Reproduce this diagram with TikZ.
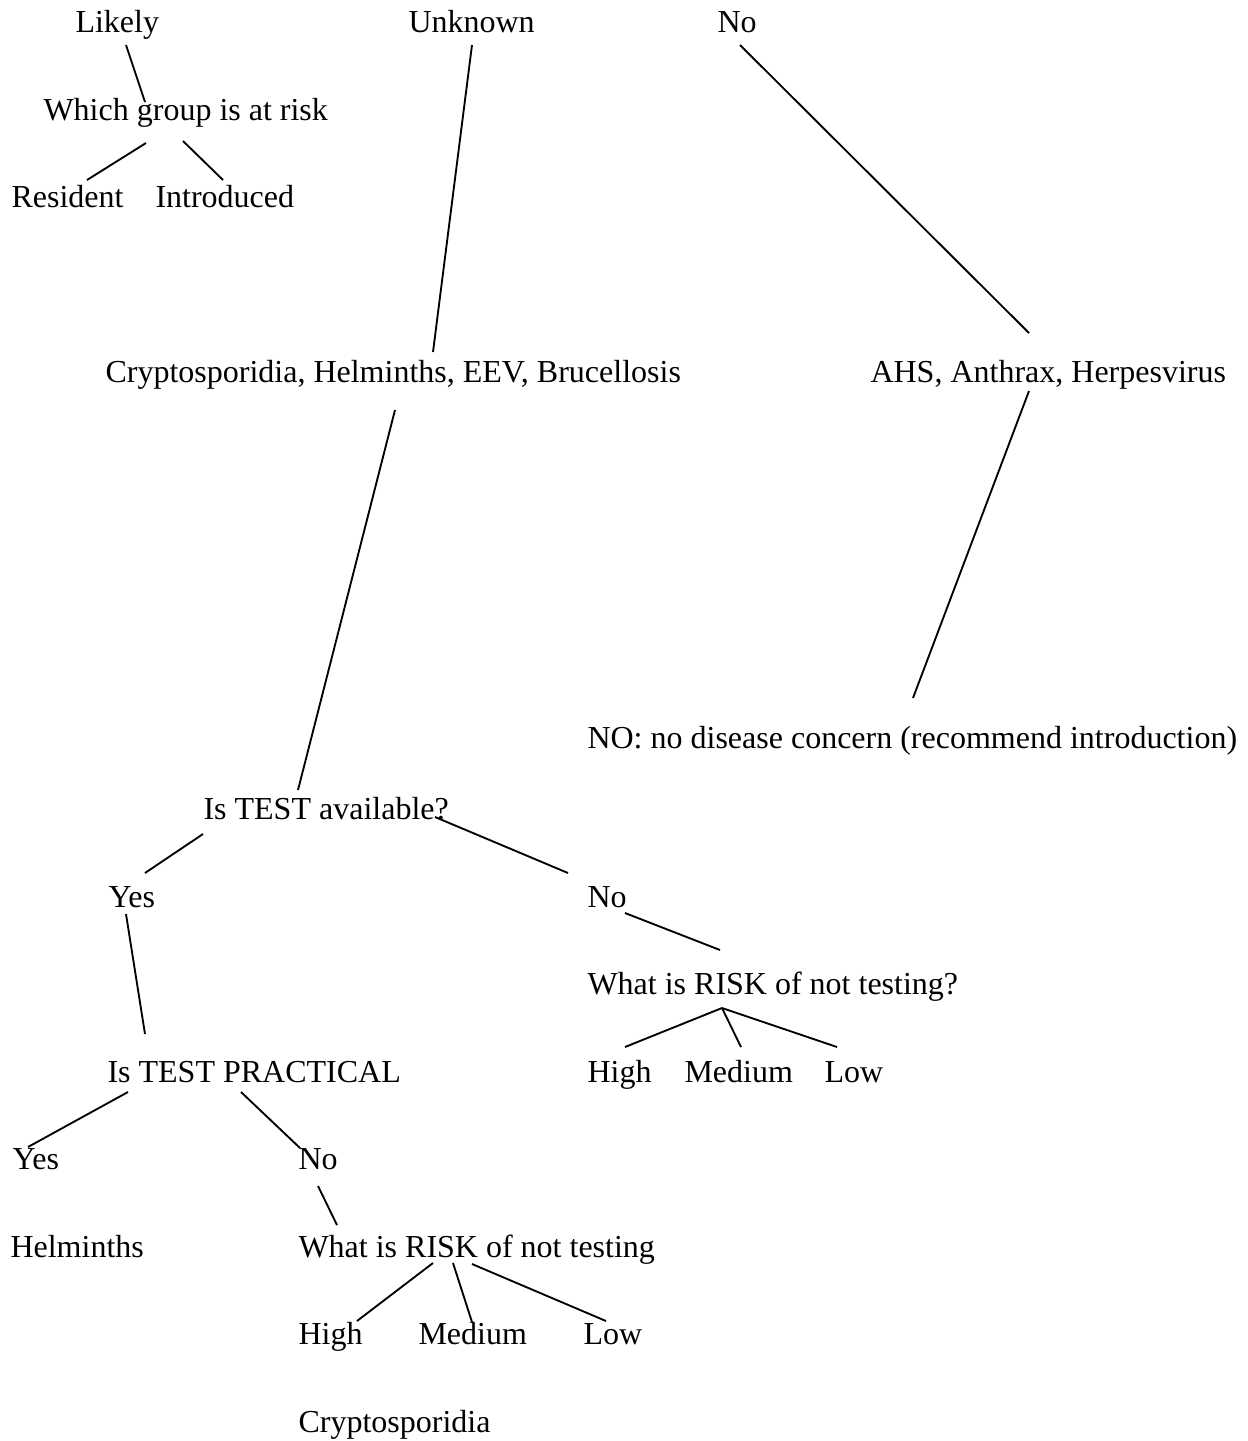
\documentclass[tikz,border=0pt]{standalone}
\usepackage{fontspec}
\setmainfont{Liberation Serif}
\usetikzlibrary{calc}

\begin{document}
\begin{tikzpicture}[x=0.375pt,y=-0.375pt,
  t/.style={anchor=base west,inner sep=0pt,font=\fontsize{12pt}{14pt}\selectfont},
  l/.style={line width=0.7pt}]
\useasboundingbox (0,0) rectangle (1248,1441);
% top rows
\node[t] (likely) at (75,32) {Likely};
\node[t] (unknown) at (408,32) {Unknown};
\node[t] (notop) at (717,32) {No};
\node[t] (which) at (43,120) {Which group is at risk};
\node[t] (resident) at (11,207) {Resident};
\node[t] (introduced) at (155,207) {Introduced};
\node[t] (crypto) at (105,382) {Cryptosporidia, Helminths, EEV, Brucellosis};
\node[t] (ahs) at (870,382) {AHS, Anthrax, Herpesvirus};
\node[t] (nodis) at (587,748) {NO: no disease concern (recommend introduction)};
% test branch
\node[t] (avail) at (203,819.5) {Is TEST available?};
\node[t] (yesav) at (108,907) {Yes};
\node[t] (noav) at (587,907) {No};
\node[t] (riskav) at (587,994.5) {What is RISK of not testing?};
\node[t] (pract) at (107,1082) {Is TEST PRACTICAL};
\node[t] (highav) at (587,1082) {High};
\node[t] (medav) at (684,1082) {Medium};
\node[t] (lowav) at (824,1082) {Low};
\node[t] (yespr) at (12,1169.5) {Yes};
\node[t] (nopr) at (298,1169.5) {No};
\node[t] (helm) at (10,1257) {Helminths};
\node[t] (riskpr) at (298,1257) {What is RISK of not testing};
\node[t] (highpr) at (298,1344.5) {High};
\node[t] (medpr) at (418,1344.5) {Medium};
\node[t] (lowpr) at (583,1344.5) {Low};
\node[t] (cryppr) at (298,1432) {Cryptosporidia};
% connectors
\draw[l] ($(likely.base west)+(51,13)$) -- ($(which.base west)+(102,-18)$);
\draw[l] ($(which.base west)+(103,23)$) -- ($(resident.base west)+(76,-27)$);
\draw[l] ($(which.base west)+(140,21)$) -- ($(introduced.base west)+(68,-27)$);
\draw[l] ($(unknown.base west)+(64,13)$) -- ($(crypto.base west)+(328,-30)$);
\draw[l] ($(notop.base west)+(23,13)$) -- ($(ahs.base west)+(159,-49)$);
\draw[l] ($(crypto.base west)+(290,28)$) -- ($(avail.base west)+(95,-29.5)$);
\draw[l] ($(ahs.base west)+(159,9)$) -- ($(nodis.base west)+(326,-50)$);
\draw[l] ($(avail.base west)+(0,14.5)$) -- ($(yesav.base west)+(37,-34)$);
\draw[l] ($(avail.base west)+(232,-2.5)$) -- ($(noav.base west)+(-19,-34)$);
\draw[l] ($(yesav.base west)+(18,7)$) -- ($(pract.base west)+(38,-48)$);
\draw[l] ($(noav.base west)+(38,6)$) -- ($(riskav.base west)+(133,-44.5)$);
\draw[l] ($(riskav.base west)+(135,13.5)$) -- ($(highav.base west)+(38,-35)$);
\draw[l] ($(riskav.base west)+(135,13.5)$) -- ($(medav.base west)+(57,-35)$);
\draw[l] ($(riskav.base west)+(135,13.5)$) -- ($(lowav.base west)+(13,-35)$);
\draw[l] ($(pract.base west)+(21,10)$) -- ($(yespr.base west)+(16,-22.5)$);
\draw[l] ($(pract.base west)+(134,10)$) -- ($(nopr.base west)+(2,-21.5)$);
\draw[l] ($(nopr.base west)+(20,16.5)$) -- ($(riskpr.base west)+(39,-32)$);
\draw[l] ($(riskpr.base west)+(135,6)$) -- ($(highpr.base west)+(59,-23.5)$);
\draw[l] ($(riskpr.base west)+(155,6)$) -- ($(medpr.base west)+(54,-22.5)$);
\draw[l] ($(riskpr.base west)+(174,7)$) -- ($(lowpr.base west)+(23,-23.5)$);
\end{tikzpicture}
\end{document}
